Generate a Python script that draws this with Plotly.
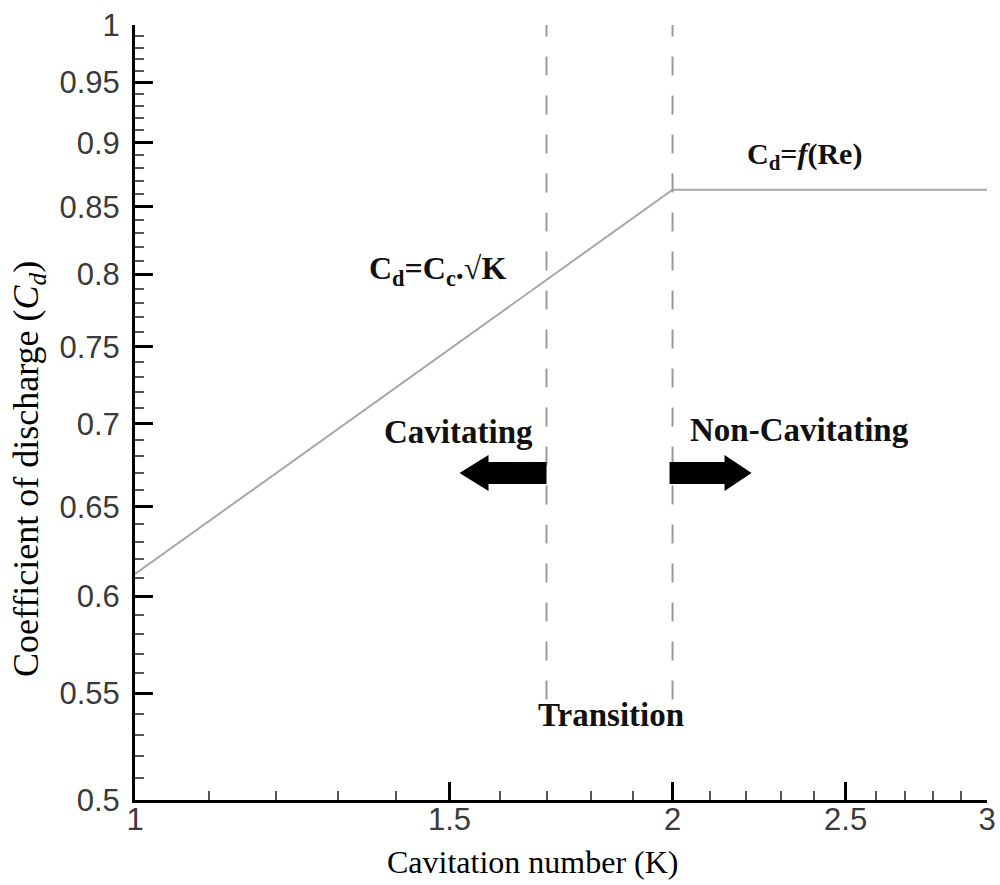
import numpy as np
import plotly.graph_objects as go

# ---- data ----
K = [1.0, 2.0, 3.0]
Cd = [0.612, 0.863, 0.863]
transition_K = [1.7, 2.0]
x_ticks = [1, 1.5, 2, 2.5, 3]
x_ticklabels = ["1", "1.5", "2", "2.5", "3"]
y_ticks = [0.5, 0.55, 0.6, 0.65, 0.7, 0.75, 0.8, 0.85, 0.9, 0.95, 1.0]
y_ticklabels = ["0.5", "0.55", "0.6", "0.65", "0.7", "0.75", "0.8", "0.85", "0.9", "0.95", "1"]
x_minor = [1.1, 1.2, 1.3, 1.4, 1.6, 1.7, 1.8, 1.9, 2.1, 2.2, 2.3, 2.4, 2.6, 2.7, 2.8, 2.9]
y_minor = [round(0.5 + 0.01 * i, 2) for i in range(51)]
dash_bottom = 0.547
x_range = [1, 3]
y_range = [0.5, 1.0]

fig = go.Figure()

fig.add_trace(go.Scatter(x=K, y=Cd, mode="lines",
                         line=dict(color="#a8a8a8", width=2), showlegend=False,
                         hoverinfo="skip"))

for k in transition_K:
    fig.add_trace(go.Scatter(x=[k, k], y=[dash_bottom, 1.0], mode="lines",
                             line=dict(color="#9a9a9a", width=2, dash="19px,20px"),
                             showlegend=False, hoverinfo="skip"))

lx0, lx1 = np.log10(x_range)


def xp(k):
    return (np.log10(k) - lx0) / (lx1 - lx0)


H_PLOT = 885 - 25 - 85
W_PLOT = 1000 - 135 - 13


def yp_pix(py):
    return (800 - py) / H_PLOT


def px_w(p):
    return p / W_PLOT


# block arrows
yc = yp_pix(473)
sh = 11 / H_PLOT
hh = 18 / H_PLOT
left_end = xp(transition_K[0])
right_start = xp(transition_K[1])
lp = [(left_end, yc - sh), (left_end - px_w(58), yc - sh), (left_end - px_w(58), yc - hh),
      (left_end - px_w(87), yc), (left_end - px_w(58), yc + hh), (left_end - px_w(58), yc + sh),
      (left_end, yc + sh)]
rp = [(right_start - px_w(3), yc - sh), (right_start + px_w(52), yc - sh), (right_start + px_w(52), yc - hh),
      (right_start + px_w(79), yc), (right_start + px_w(52), yc + hh), (right_start + px_w(52), yc + sh),
      (right_start - px_w(3), yc + sh)]
for pts in (lp, rp):
    path = "M " + " L ".join(f"{a:.5f},{b:.5f}" for a, b in pts) + " Z"
    fig.add_shape(type="path", path=path, xref="x domain", yref="y domain",
                  fillcolor="black", line=dict(color="black", width=0))

SERIF = "Liberation Serif"


def ann(text, px, py, size=33, color="#111", angle=0):
    fig.add_annotation(text=text, x=(px - 135) / W_PLOT, y=yp_pix(py), xref="x domain", yref="y domain",
                       showarrow=False, font=dict(family=SERIF, size=size, color=color),
                       xanchor="center", yanchor="middle", textangle=angle)


ann("<b>C<sub>d</sub>=C<sub>c</sub>.√K</b>", 437, 270, 32)
ann("<b>C<sub>d</sub>=<i>f</i>(Re)</b>", 804, 156, 30)
ann("<b>Cavitating</b>", 458, 432)
ann("<b>Non-Cavitating</b>", 799, 430)
ann("<b>Transition</b>", 611, 715)

# axis titles
ann("Cavitation number (K)", 532, 862, 32, "black")
ann("Coefficient of discharge (<i>C<sub>d</sub></i>)", 28, 469, 36, "black", -90)

axis_font = dict(family="Liberation Sans, Arial, sans-serif", size=31, color="#3a3a3a")

fig.update_xaxes(type="log", range=[lx0, lx1], tickmode="array", tickvals=x_ticks, ticktext=x_ticklabels,
                 ticks="inside", ticklen=18, tickwidth=3, tickcolor="black",
                 showline=True, linewidth=3, linecolor="black", mirror=False, automargin=False,
                 showgrid=False, zeroline=False, tickfont=axis_font, ticklabelstandoff=-10,
                 minor=dict(tickmode="array", tickvals=x_minor, ticks="inside", ticklen=9, tickwidth=1.5,
                            tickcolor="#555", showgrid=False))
fig.update_yaxes(type="log", range=list(np.log10(y_range)), tickmode="array", tickvals=y_ticks,
                 ticktext=y_ticklabels,
                 ticks="inside", ticklen=18, tickwidth=3, tickcolor="black",
                 showline=True, linewidth=3, linecolor="black", mirror=False, automargin=False,
                 showgrid=False, zeroline=False, tickfont=axis_font, ticklabelstandoff=6,
                 minor=dict(tickmode="array", tickvals=y_minor, ticks="inside", ticklen=9, tickwidth=1.5,
                            tickcolor="#555", showgrid=False))

fig.update_layout(width=1000, height=885, margin=dict(l=135, r=13, t=25, b=85),
                  plot_bgcolor="white", paper_bgcolor="white", showlegend=False)

fig.write_html("out.html", config={"displayModeBar": False},
               post_script="document.body.style.margin='0';document.body.style.overflow='hidden';")
